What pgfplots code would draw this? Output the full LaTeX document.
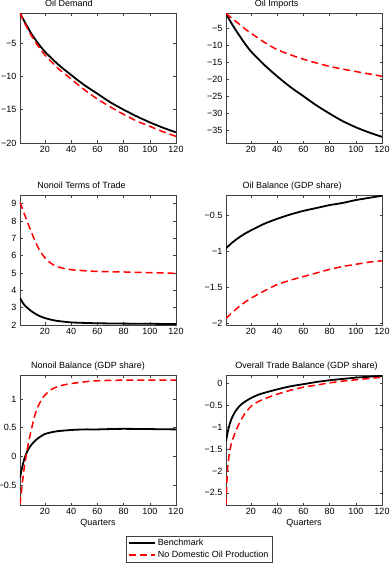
\documentclass[border=0pt]{standalone}
\usepackage{pgfplots}
\pgfplotsset{compat=1.18}
\usepackage{fontspec}
\setmainfont{Liberation Sans}
\pgfplotsset{
  panel/.style={
    scale only axis, width=156pt, height=130pt,
    xmin=1, xmax=120, xtick={20,40,...,120},
    axis line style={black!75, line width=0.6pt},
    major tick style={black!75, line width=0.5pt},
    major tick length=2.5pt,
    tick label style={font=\fontsize{9}{10.5}\selectfont},
    /pgf/number format/assume math mode=true,
    every axis title shift=0pt,
    title style={font=\fontsize{9}{10.5}\selectfont, anchor=base, yshift=6.5pt},
    label style={font=\fontsize{9}{10.5}\selectfont},
    every axis plot/.append style={smooth, tension=0.4},
    clip=true,
  },
  bench/.style={black, line width=1.8pt},
  nodom/.style={red, line width=1.5pt, dash pattern=on 7pt off 4pt},
}
\begin{document}
\begin{tikzpicture}[x=1pt,y=1pt]
\useasboundingbox (0,0) rectangle (391,-565);
% Oil Demand
\begin{axis}[panel, at={(20pt,-13pt)}, anchor=north west,
  ymin=-20, ymax=-0.5, ytick={-20,-15,-10,-5}, yticklabels={−20,−15,−10,−5},
  title={Oil Demand}, title style={at={(0.314,1)}}]
\addplot[bench] coordinates {(1,-0.5)(5,-2.0)(10,-3.7)(15,-5.1)(20,-6.3)(30,-8.2)(40,-9.8)(50,-11.3)(60,-12.6)(70,-13.9)(80,-15.0)(90,-16.0)(100,-16.9)(110,-17.7)(120,-18.4)};
\addplot[nodom] coordinates {(1,-0.5)(5,-2.2)(10,-4.0)(15,-5.5)(20,-6.8)(30,-8.8)(40,-10.4)(50,-12.0)(60,-13.4)(70,-14.6)(80,-15.7)(90,-16.7)(100,-17.5)(110,-18.3)(120,-19.0)};
\end{axis}
% Oil Imports
\begin{axis}[panel, at={(226pt,-13pt)}, anchor=north west,
  ymin=-38.6, ymax=-0.6, ytick={-35,-30,...,-5}, yticklabels={−35,−30,−25,−20,−15,−10,−5},
  title={Oil Imports}, title style={at={(0.325,1)}}]
\addplot[bench] coordinates {(1,-0.7)(5,-3.5)(10,-6.5)(15,-9.3)(20,-11.8)(30,-15.7)(40,-19.1)(50,-22.2)(60,-24.9)(70,-27.6)(80,-30.0)(90,-32.2)(100,-34.0)(110,-35.5)(120,-36.8)};
\addplot[nodom] coordinates {(1,-0.7)(5,-2.0)(10,-3.5)(15,-5.1)(20,-6.5)(30,-9.1)(40,-11.3)(50,-12.8)(60,-14.1)(70,-15.2)(80,-16.2)(90,-17.0)(100,-17.7)(110,-18.4)(120,-19.1)};
\end{axis}
% Nonoil Terms of Trade
\begin{axis}[panel, at={(20pt,-195pt)}, anchor=north west,
  ymin=2, ymax=9.5, ytick={2,3,...,9},
  title={Nonoil Terms of Trade}, title style={at={(0.394,1)}}]
\addplot[bench] coordinates {(1,3.55)(3,3.3)(5,3.1)(10,2.78)(15,2.55)(20,2.40)(25,2.30)(30,2.23)(40,2.15)(50,2.12)(60,2.10)(80,2.08)(100,2.07)(120,2.05)};
\addplot[nodom] coordinates {(1,9.07)(5,8.27)(10,7.3)(15,6.44)(20,5.87)(25,5.54)(30,5.35)(40,5.19)(60,5.09)(80,5.06)(100,5.02)(120,4.98)};
\end{axis}
% Oil Balance
\begin{axis}[panel, at={(226pt,-195pt)}, anchor=north west,
  ymin=-2.02, ymax=-0.22, ytick={-2,-1.5,-1,-0.5}, yticklabels={−2,−1.5,−1,−0.5},
  title={Oil Balance (GDP share)}, title style={at={(0.424,1)}}]
\addplot[bench] coordinates {(1,-0.96)(5,-0.89)(10,-0.82)(15,-0.76)(20,-0.71)(30,-0.62)(40,-0.55)(50,-0.49)(60,-0.44)(70,-0.40)(80,-0.36)(90,-0.33)(100,-0.29)(110,-0.26)(120,-0.23)};
\addplot[nodom] coordinates {(1,-1.93)(5,-1.86)(10,-1.78)(15,-1.71)(20,-1.65)(30,-1.55)(40,-1.46)(50,-1.40)(60,-1.35)(70,-1.30)(80,-1.25)(90,-1.21)(100,-1.18)(110,-1.15)(120,-1.13)};
\end{axis}
% Nonoil Balance
\begin{axis}[panel, at={(20pt,-375pt)}, anchor=north west,
  ymin=-0.85, ymax=1.42, ytick={-0.5,0,0.5,1}, yticklabels={−0.5,0,0.5,1},
  title={Nonoil Balance (GDP share)}, title style={at={(0.436,1)}},
  xlabel={Quarters}, xlabel style={yshift=3pt},
  legend style={at={(0.679,-0.238)}, anchor=north west, font=\fontsize{9}{10.5}\selectfont,
    draw=black!75, inner xsep=2pt, inner ysep=1pt, row sep=0pt, cells={anchor=west}},
  legend image code/.code={\draw[#1, sharp plot] (0pt,0pt) -- (26pt,0pt);}]
\addplot[bench] coordinates {(1,-0.38)(2,-0.26)(3,-0.16)(4,-0.07)(5,0.0)(6,0.06)(8,0.15)(10,0.21)(12,0.26)(15,0.32)(20,0.39)(25,0.42)(30,0.44)(40,0.46)(50,0.47)(60,0.47)(80,0.48)(120,0.47)};
\addlegendentry{Benchmark}
\addplot[nodom] coordinates {(1,-0.84)(2,-0.63)(3,-0.42)(4,-0.24)(5,-0.09)(6,0.05)(7,0.18)(8,0.30)(9,0.40)(10,0.50)(12,0.69)(14,0.83)(16,0.93)(18,1.01)(20,1.07)(25,1.17)(30,1.22)(35,1.25)(40,1.27)(50,1.30)(60,1.32)(80,1.33)(100,1.33)(120,1.33)};
\addlegendentry{No Domestic Oil Production}
\end{axis}
% Overall Trade Balance
\begin{axis}[panel, at={(226pt,-375pt)}, anchor=north west,
  ymin=-2.78, ymax=0.2, ytick={-2.5,-2,...,0}, yticklabels={−2.5,−2,−1.5,−1,−0.5,0},
  title={Overall Trade Balance (GDP share)}, title style={at={(0.516,1)}},
  xlabel={Quarters}, xlabel style={yshift=3pt}]
\addplot[bench] coordinates {(1,-1.32)(2,-1.15)(3,-1.02)(4,-0.91)(5,-0.82)(6,-0.75)(8,-0.64)(10,-0.56)(12,-0.49)(15,-0.42)(20,-0.33)(25,-0.26)(30,-0.21)(40,-0.13)(50,-0.06)(60,-0.01)(70,0.04)(80,0.08)(90,0.11)(100,0.14)(110,0.16)(120,0.18)};
\addplot[nodom] coordinates {(1,-2.78)(2,-2.05)(3,-1.72)(4,-1.52)(5,-1.38)(6,-1.28)(8,-1.12)(10,-0.98)(12,-0.86)(15,-0.70)(20,-0.52)(25,-0.42)(30,-0.35)(40,-0.24)(50,-0.15)(60,-0.08)(70,-0.03)(80,0.02)(90,0.06)(100,0.09)(110,0.12)(120,0.15)};
\end{axis}
\end{tikzpicture}
\end{document}
